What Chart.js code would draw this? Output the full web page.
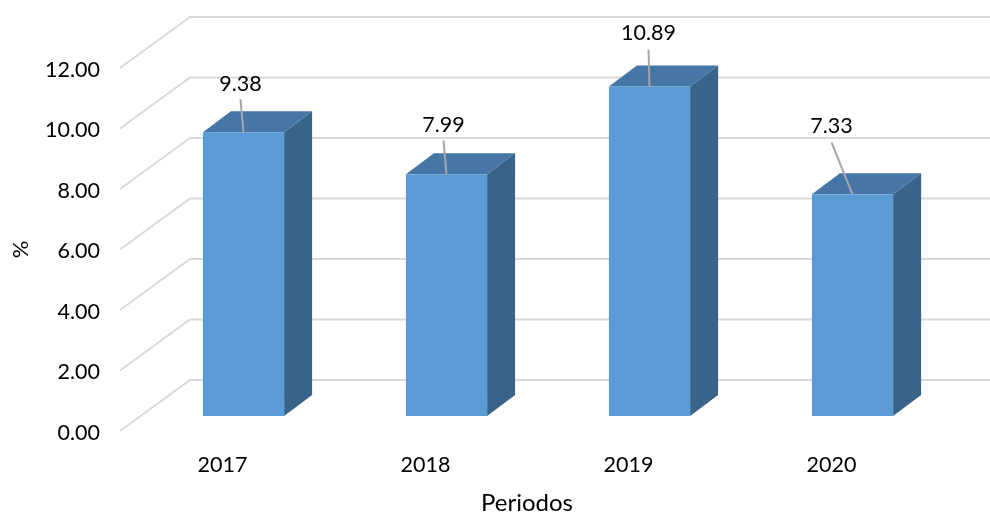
<!DOCTYPE html>
<html>
<head>
<meta charset="utf-8">
<style>html,body{margin:0;padding:0;background:#fff}canvas{display:block}</style>
<script src="https://cdn.jsdelivr.net/npm/chart.js@4"></script>
</head>
<body>
<canvas id="c" width="990" height="513"></canvas>
<script>
const categories = ['2017', '2018', '2019', '2020'];
const values = [9.38, 7.99, 10.89, 7.33];
const xTitle = 'Periodos';
const yTitle = '%';

const FONT = 'Lato, "Open Sans", sans-serif';
const FS = 21.5;
const wall = {dx: 69, dy: -51};
const bar = {shiftX: 21, shiftY: -15, depthX: 28, depthY: -21};
const colors = {front: '#5b9bd5', top: '#4576a5', side: '#3a6389', grid: '#d9d9d9', leader: '#a6a6a6', text: '#000000'};
// label position relative to the bar's front top centre, leader end relative to the label
const labelShift = [[-3, -50, 17], [-3, -51, 17], [-1, -56, 19], [-21, -70, 18]];
const GLYPH_DROP = 2;

const depthPlugin = {
  id: 'depth',
  beforeDatasetsDraw(chart) {
    const y = chart.scales.y, x0 = chart.chartArea.left, ctx = chart.ctx;
    ctx.save();
    ctx.strokeStyle = colors.grid;
    ctx.lineWidth = 2;
    ctx.lineJoin = 'miter';
    y.ticks.forEach(t => {
      const py = y.getPixelForValue(t.value);
      ctx.beginPath();
      ctx.moveTo(x0 - 1, py);
      ctx.lineTo(x0 + wall.dx, py + wall.dy);
      ctx.lineTo(chart.width, py + wall.dy);
      ctx.stroke();
    });
    ctx.restore();
  },
  beforeDatasetDraw(chart, args) {
    const ctx = chart.ctx;
    const meta = chart.getDatasetMeta(args.index);
    ctx.save();
    ctx.translate(bar.shiftX, bar.shiftY);
    meta.data.forEach(el => {
      const l = el.x - el.width / 2, r = el.x + el.width / 2, t = el.y, b = el.base;
      ctx.fillStyle = colors.top;
      ctx.beginPath();
      ctx.moveTo(l, t);
      ctx.lineTo(l + bar.depthX, t + bar.depthY);
      ctx.lineTo(r + bar.depthX, t + bar.depthY);
      ctx.lineTo(r, t);
      ctx.closePath();
      ctx.fill();
      ctx.fillStyle = colors.side;
      ctx.beginPath();
      ctx.moveTo(r, t);
      ctx.lineTo(r + bar.depthX, t + bar.depthY);
      ctx.lineTo(r + bar.depthX, b + bar.depthY);
      ctx.lineTo(r, b);
      ctx.closePath();
      ctx.fill();
    });
  },
  afterDatasetDraw(chart) {
    chart.ctx.restore();
  },
  afterDatasetsDraw(chart) {
    const ctx = chart.ctx;
    const meta = chart.getDatasetMeta(0);
    ctx.save();
    ctx.font = FS + 'px ' + FONT;
    ctx.textAlign = 'center';
    ctx.textBaseline = 'middle';
    meta.data.forEach((el, i) => {
      const sx = el.x + bar.shiftX, sy = el.y + bar.shiftY;
      const [dx, dy, gap] = labelShift[i];
      const lx = sx + dx, ly = sy + dy;
      ctx.strokeStyle = colors.leader;
      ctx.lineWidth = 2;
      ctx.beginPath();
      ctx.moveTo(sx, sy);
      ctx.lineTo(lx, ly + gap);
      ctx.stroke();
      ctx.fillStyle = colors.text;
      ctx.fillText(values[i].toFixed(2), lx, ly + GLYPH_DROP);
    });
    ctx.restore();
  }
};

new Chart(document.getElementById('c'), {
  type: 'bar',
  data: {
    labels: categories,
    datasets: [{
      data: values,
      backgroundColor: colors.front,
      borderWidth: 0,
      barPercentage: 0.4,
      categoryPercentage: 1,
      clip: false
    }]
  },
  options: {
    responsive: false,
    animation: false,
    devicePixelRatio: 1,
    layout: {padding: {top: 68, right: 57, bottom: 0, left: 0}},
    plugins: {legend: {display: false}, title: {display: false}, tooltip: {enabled: false}},
    scales: {
      x: {
        grid: {display: false, drawTicks: false},
        border: {display: false},
        ticks: {color: colors.text, font: {family: FONT, size: FS}, padding: 21, maxRotation: 0},
        title: {display: true, text: xTitle, color: colors.text, font: {family: FONT, size: 24, lineHeight: 0.83}, padding: {top: 0, bottom: 0}},
        afterFit(s) { s.height = 82; }
      },
      y: {
        min: 0, max: 12,
        grid: {display: false, drawTicks: false},
        border: {display: false},
        ticks: {stepSize: 2, color: colors.text, font: {family: FONT, size: FS}, padding: 21, callback: v => Number(v).toFixed(2)},
        title: {display: true, text: yTitle, color: colors.text, font: {family: FONT, size: 22, lineHeight: 1}, padding: {top: 10, bottom: 0}},
        afterFit(s) { s.width = 121; },
        afterUpdate(s) {
          if (s._dropped) return;
          s._dropped = true;
          const compute = s._computeLabelItems.bind(s);
          s._computeLabelItems = area => compute(area).map(it => ({...it, textOffset: it.textOffset + GLYPH_DROP}));
        }
      }
    }
  },
  plugins: [depthPlugin]
});
</script>
</body>
</html>
